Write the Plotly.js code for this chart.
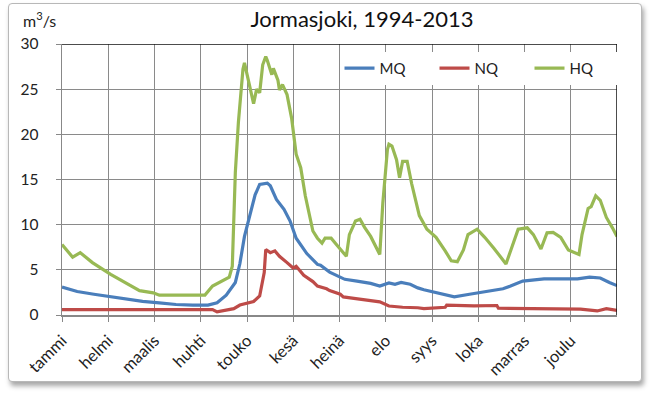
<!DOCTYPE html>
<html>
<head>
<meta charset="utf-8">
<script src="https://cdn.plot.ly/plotly-3.0.1.min.js"></script>
<style>
  html, body { margin: 0; padding: 0; background: #ffffff; }
  #frame { position: absolute; left: 8px; top: 3px; width: 632px; height: 377px;
           border: 1px solid #b8b8b8; border-radius: 4px;
           box-shadow: 2px 4px 5px rgba(0,0,0,0.35); background: #fff; }
  #chart { position: absolute; left: 0; top: 0; width: 651px; height: 395px; }
</style>
</head>
<body>
<div id="frame"></div>
<div id="chart"></div>
<script>
// Month tick labels
const months = ['tammi','helmi','maalis','huhti','touko','kesä','heinä','elo','syys','loka','marras','joulu'];

// MQ (mean discharge), day of year -> m3/s
const mqDays = [0,10,21,32,43,53,64,75,86,96,102,108,114,117,120,124,127,130,135,137,141,146,150,154,161,168,170,176,186,194,203,209,215,219,223,229,234,238,246,258,268,279,290,295,300,303,317,330,339,347,354,360,365];
const mqVals = [3.1,2.6,2.3,2.0,1.7,1.5,1.35,1.16,1.1,1.1,1.35,2.2,3.6,5.7,8.7,11.3,13.3,14.45,14.6,14.3,12.8,11.7,10.4,8.5,6.8,5.6,5.5,4.75,3.95,3.75,3.5,3.2,3.55,3.4,3.6,3.4,3.0,2.8,2.45,2.0,2.3,2.6,2.9,3.2,3.5,3.75,4.0,4.0,4.0,4.2,4.1,3.6,3.25];

// NQ (low discharge)
const nqDays = [0,30,60,90,99,102,106,113,117,126,130,133,134,137,140,143,148,152,154,159,165,168,174,176,183,185,192,200,205,209,215,224,234,238,252,253,271,286,287,308,330,341,352,358,365];
const nqVals = [0.6,0.6,0.6,0.6,0.6,0.35,0.5,0.7,1.1,1.5,2.1,4.7,7.25,6.9,7.1,6.5,5.8,5.2,5.4,4.4,3.7,3.2,2.9,2.7,2.3,2.0,1.85,1.7,1.6,1.45,1.0,0.86,0.8,0.7,0.85,1.1,1.0,1.05,0.75,0.7,0.6,0.65,0.45,0.7,0.5];

// HQ (high discharge)
const hqDays = [0,7,12,20,32,43,51,60,64,78,94,99,104,110,112,114,116,119,120,122,126,128,130,132,134,135,138,139,142,143,145,148,151,154,157,160,163,165,168,171,173,177,181,184,187,189,193,196,199,203,206,209,211,214,215,217,220,222,224,227,230,233,235,240,246,252,256,260,264,267,273,278,284,292,296,300,306,310,315,319,323,328,333,339,340,342,346,348,351,354,358,362,365];
const hqVals = [7.8,6.4,6.9,5.8,4.5,3.4,2.7,2.45,2.2,2.2,2.2,3.2,3.7,4.2,5.4,15.8,21.3,27.2,27.9,26.4,23.4,25.0,24.6,27.7,28.6,28.2,26.6,27.3,26.0,24.9,25.5,24.4,21.8,17.8,16.3,13.2,10.6,9.3,8.5,7.95,8.5,8.5,7.7,7.1,6.5,8.9,10.4,10.6,9.7,8.7,7.6,6.7,12.4,18.3,18.9,18.7,17.2,15.2,17.0,17.0,14.5,12.4,11.0,9.5,8.6,7.1,6.0,5.9,7.2,8.9,9.5,8.6,7.4,5.65,7.7,9.5,9.65,8.9,7.3,9.1,9.15,8.6,7.2,6.7,6.7,8.9,11.8,12.0,13.2,12.7,10.8,9.65,8.7];

const yearDays = 365;
const tickPos = months.map((m, i) => i * yearDays / 12);

const font = 'Lato, "Open Sans", sans-serif';

const traces = [
  { x: mqDays, y: mqVals, name: 'MQ', type: 'scatter', mode: 'lines',
    line: { color: '#4A7EBB', width: 3.2 } },
  { x: nqDays, y: nqVals, name: 'NQ', type: 'scatter', mode: 'lines',
    line: { color: '#BE4B48', width: 3.2 } },
  { x: hqDays, y: hqVals, name: 'HQ', type: 'scatter', mode: 'lines',
    line: { color: '#98B954', width: 3.2 } }
];

const layout = {
  width: 651, height: 395,
  margin: { l: 62, r: 34, t: 44, b: 80 },
  paper_bgcolor: 'rgba(0,0,0,0)',
  plot_bgcolor: '#ffffff',
  font: { family: font, size: 15, color: '#222' },
  title: { text: 'Jormasjoki, 1994-2013', x: 0.556, xanchor: 'center', y: 0.95, yanchor: 'middle',
           font: { family: font, size: 22, color: '#111' } },
  showlegend: true,
  legend: { orientation: 'h', x: 0.5, xanchor: 'left', y: 0.91, yanchor: 'middle',
            bgcolor: '#ffffff', font: { family: font, size: 15, color: '#222' },
            itemwidth: 30, entrywidth: 50, entrywidthmode: 'pixels', tracegroupgap: 0 },
  xaxis: {
    range: [0, yearDays], tickmode: 'array', tickvals: tickPos, ticktext: months,
    tickangle: -45, ticks: 'outside', ticklen: 5, tickcolor: '#888',
    showgrid: true, gridcolor: '#8a8a8a', gridwidth: 1,
    showline: true, linecolor: '#888', linewidth: 1.5,
    zeroline: false, fixedrange: true, ticklabelstandoff: 3,
    tickfont: { family: font, size: 16.5, color: '#222' }
  },
  yaxis: {
    range: [0, 30], dtick: 5, tick0: 0, ticks: 'outside', ticklen: 5, tickcolor: '#888',
    showgrid: true, gridcolor: '#8a8a8a', gridwidth: 1,
    showline: true, linecolor: '#888', linewidth: 1.5,
    zeroline: false, fixedrange: true, ticklabelstandoff: 14,
    tickfont: { family: font, size: 15.5, color: '#222' }
  },
  shapes: [
    { type: 'line', xref: 'x', yref: 'y', x0: 0, x1: yearDays, y0: 30, y1: 30,
      line: { color: '#111', width: 1.5 } },
    { type: 'line', xref: 'x', yref: 'y', x0: yearDays, x1: yearDays, y0: 0, y1: 30,
      line: { color: '#111', width: 1.5 } }
  ],
  annotations: [
    { text: 'm<sup>3</sup>/s', xref: 'paper', yref: 'paper', x: -0.04, y: 1.09,
      xanchor: 'center', yanchor: 'middle', showarrow: false,
      font: { family: font, size: 16, color: '#222' } }
  ]
};

Plotly.newPlot('chart', traces, layout, { displayModeBar: false, staticPlot: true });
</script>
</body>
</html>
